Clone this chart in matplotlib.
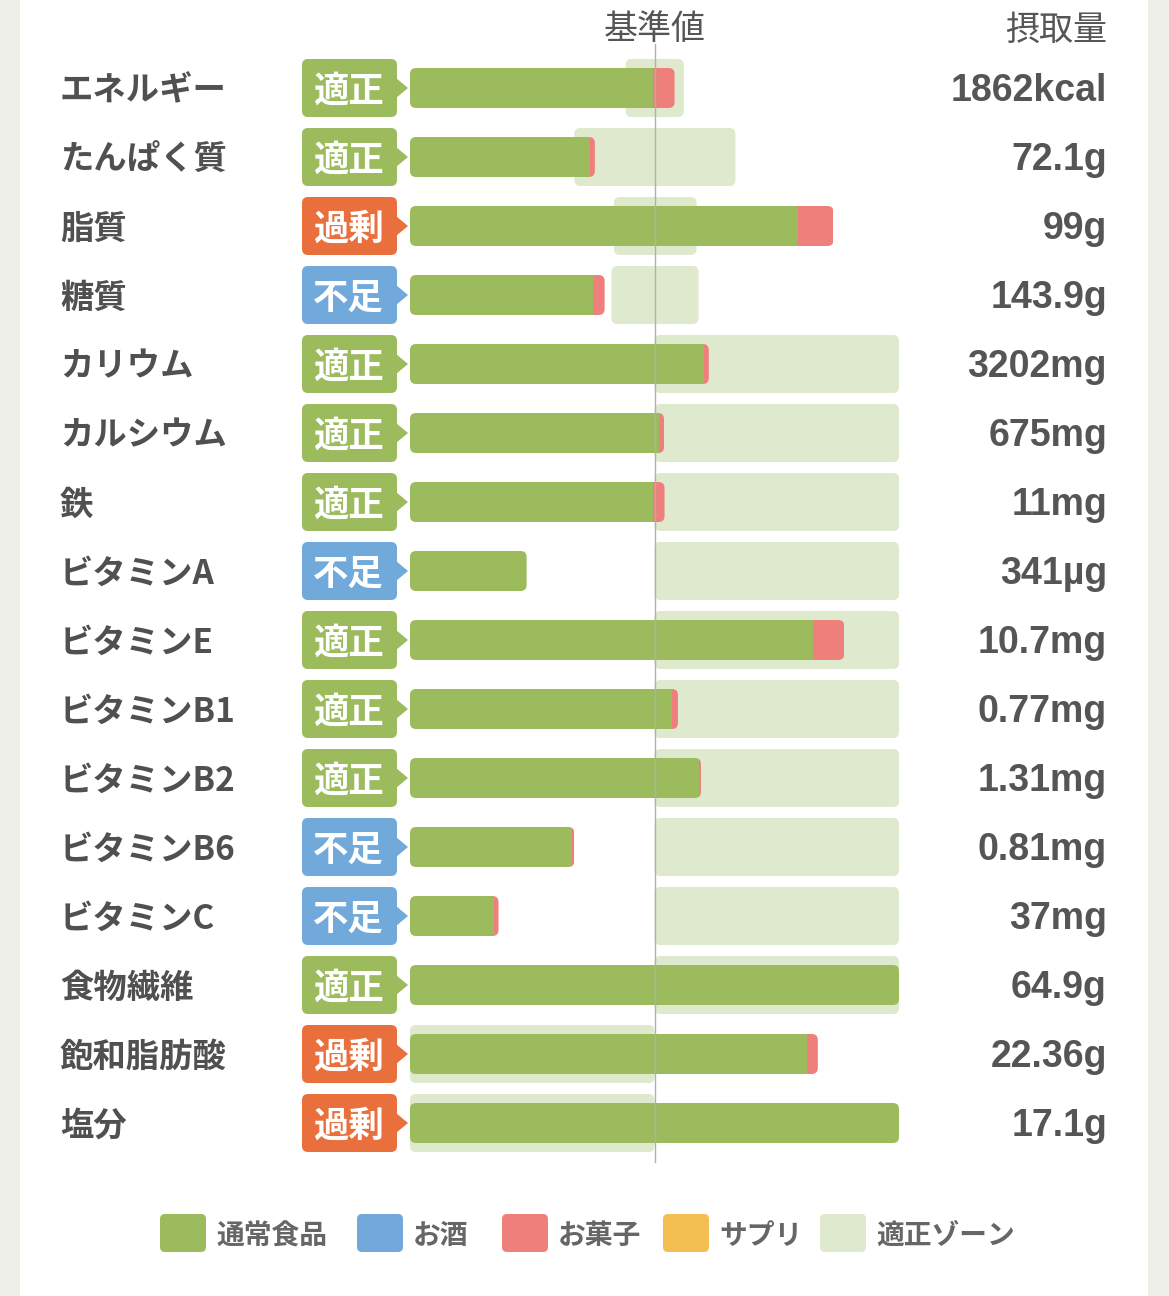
import matplotlib
matplotlib.use("Agg")
import matplotlib.pyplot as plt
from matplotlib.patches import FancyBboxPatch, Polygon, Rectangle

plt.rcParams['font.family'] = ['Noto Sans CJK JP', 'DejaVu Sans']

# data (percent of the reference value, 100 = 基準値)
nutrients = ['エネルギー', 'たんぱく質', '脂質', '糖質', 'カリウム', 'カルシウム', '鉄',
             'ビタミンA', 'ビタミンE', 'ビタミンB1', 'ビタミンB2', 'ビタミンB6',
             'ビタミンC', '食物繊維', '飽和脂肪酸', '塩分']
status = ['適正', '適正', '過剰', '不足', '適正', '適正', '適正', '不足',
          '適正', '適正', '適正', '不足', '不足', '適正', '過剰', '過剰']
food_pct = [99.5, 73.6, 158.5, 74.8, 120.4, 101.8, 99.5, 47.7,
            164.7, 107.2, 118.0, 66.4, 34.3, 200.0, 162.2, 200.0]
snack_pct = [8.7, 2.0, 14.7, 4.8, 1.8, 2.1, 4.6, 0.0,
             12.9, 2.4, 1.0, 0.8, 1.9, 0.0, 4.6, 0.0]
zone_lo = [88.2, 67.2, 83.4, 82.4, 100, 100, 100, 100,
           100, 100, 100, 100, 100, 100, 0, 0]
zone_hi = [112.0, 133.1, 117.2, 118.0, 200, 200, 200, 200,
           200, 200, 200, 200, 200, 200, 100, 100]
intake = ['1862kcal', '72.1g', '99g', '143.9g', '3202mg', '675mg', '11mg', '341µg',
          '10.7mg', '0.77mg', '1.31mg', '0.81mg', '37mg', '64.9g', '22.36g', '17.1g']

legend_labels = ['通常食品', 'お酒', 'お菓子', 'サプリ', '適正ゾーン']

GREEN = '#9cbb5d'
BLUE = '#72a9db'
PINK = '#ee7f7b'
YELLOW = '#f4bf52'
ZONE = '#dfe9cd'
ORANGE = '#e9703d'
TEXT = '#505050'
status_color = {'適正': GREEN, '不足': BLUE, '過剰': ORANGE}
legend_colors = [GREEN, BLUE, PINK, YELLOW, ZONE]

# layout: 0% at px 410, 200% at px 899, rows every 69px starting at 88
W, H = 1169, 1296
PX_X = 489 / 200
PX_Y = 69
X0, Y0 = 410, 88
ASP = PX_X / PX_Y
TXT_DY = 3 / PX_Y   # CJK glyphs sit a little high with va='center'


def px2x(p):
    return (p - X0) / PX_X


def px2y(p):
    return (p - Y0) / PX_Y


def rbox(x, y, w, h, r_px, **kw):
    return FancyBboxPatch((x, y), w, h,
                          boxstyle=f"round,pad=0,rounding_size={r_px / PX_X}",
                          mutation_aspect=ASP, **kw)


fig = plt.figure(figsize=(W / 100, H / 100), dpi=100)
fig.patch.set_facecolor('#efefe9')
fig.add_artist(Rectangle((20 / W, 0), 1128 / W, 1, transform=fig.transFigure,
                         facecolor='white', edgecolor='none', zorder=0))

ax = fig.add_axes([0, 0, 1, 1])
ax.set_xlim(px2x(0), px2x(W))
ax.set_ylim(px2y(H), px2y(0))
ax.axis('off')
ax.patch.set_alpha(0)

bar_h = 40 / PX_Y
zone_h = 58 / PX_Y

for i in range(len(nutrients)):
    # appropriate zone
    ax.add_patch(rbox(zone_lo[i], i - zone_h / 2, zone_hi[i] - zone_lo[i], zone_h, 6,
                      facecolor=ZONE, edgecolor='none', zorder=1))

    total = food_pct[i] + snack_pct[i]
    clip = rbox(0, i - bar_h / 2, total, bar_h, 6, transform=ax.transData)
    g = ax.barh(i, food_pct[i], height=bar_h, left=0, color=GREEN, zorder=2)
    r = ax.barh(i, snack_pct[i], height=bar_h, left=food_pct[i], color=PINK, zorder=2)
    for b in list(g) + list(r):
        b.set_clip_path(clip)

    # status badge
    c = status_color[status[i]]
    ax.add_patch(rbox(px2x(302), i - zone_h / 2, 95 / PX_X, zone_h, 6,
                      facecolor=c, edgecolor='none', zorder=2))
    ax.add_patch(Polygon([(px2x(396), i - 10 / PX_Y), (px2x(408), i),
                          (px2x(396), i + 10 / PX_Y)], closed=True,
                         facecolor=c, edgecolor='none', zorder=2))
    ax.text(px2x(348), i + TXT_DY, status[i], color='white', fontsize=25.5,
            fontweight='bold', ha='center', va='center', zorder=3)

    ax.text(px2x(60), i + TXT_DY, nutrients[i], color=TEXT, fontsize=24,
            fontweight='bold', ha='left', va='center')
    ax.text(px2x(1107), i + 3 / PX_Y, intake[i], color='#555555', fontsize=27,
            fontweight='bold', ha='right', va='center', family='Liberation Sans')

# reference line
ax.plot([100, 100], [px2y(44), px2y(1162)], color='#b0b0b0', lw=1, zorder=4)

ax.text(100, px2y(30), '基準値', color='#555555', fontsize=24.5,
        ha='center', va='center')
ax.text(px2x(1107), px2y(30), '摂取量', color='#555555', fontsize=24.5,
        ha='right', va='center')

# legend
leg_x = [160, 357, 502, 663, 820]
ly = px2y(1233)
for lx, lab, col in zip(leg_x, legend_labels, legend_colors):
    ax.add_patch(rbox(px2x(lx), ly - 19 / PX_Y, 46 / PX_X, 38 / PX_Y, 5,
                      facecolor=col, edgecolor='none', zorder=2))
    ax.text(px2x(lx + 56), ly + 3 / PX_Y, lab, color='#666666', fontsize=20,
            fontweight='bold', ha='left', va='center')

fig.savefig('out.png', dpi=100, facecolor=fig.get_facecolor())
